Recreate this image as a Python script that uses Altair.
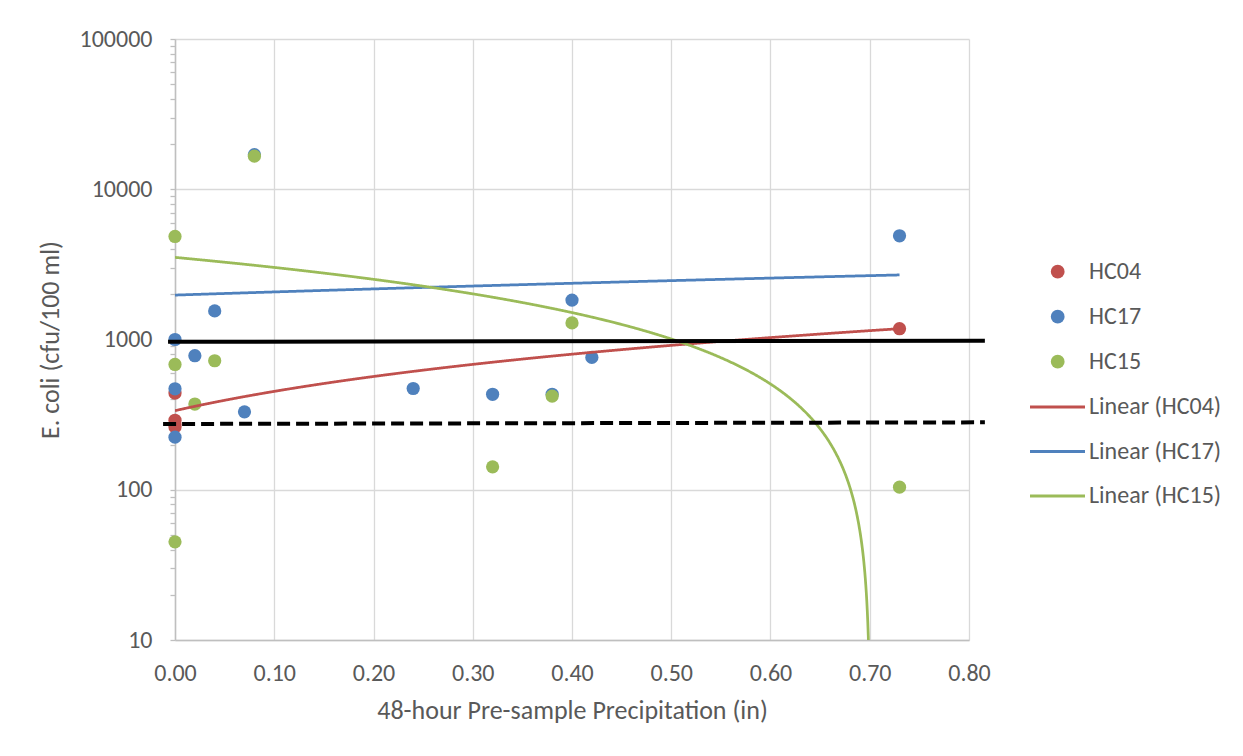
import altair as alt
import pandas as pd

FONT = "Carlito, Calibri, Lato, sans-serif"
TXT = "#595959"

# ---- scatter values ----
series_names = ["HC04", "HC17", "HC15"]
series_colors = ["#C0504D", "#4F81BD", "#9BBB59"]

hc04_x = [0.00, 0.00, 0.00, 0.00, 0.73]
hc04_y = [440, 290, 272, 262, 1180]

hc17_x = [0.00, 0.02, 0.04, 0.00, 0.00, 0.07, 0.08, 0.24, 0.32, 0.38, 0.40, 0.42, 0.73]
hc17_y = [1000, 780, 1550, 470, 224, 330, 17000, 472, 432, 432, 1830, 760, 4900]

hc15_x = [0.00, 0.08, 0.00, 0.04, 0.02, 0.00, 0.32, 0.38, 0.40, 0.73]
hc15_y = [4850, 16600, 682, 722, 372, 45, 142, 420, 1290, 104]

# ---- linear trendlines: two readings on each line and the x span ----
trend_names = ["Linear (HC04)", "Linear (HC17)", "Linear (HC15)"]
trend_xa = [0.00, 0.00, 0.00]
trend_ya = [336, 1975, 3520]
trend_xb = [0.73, 0.73, 0.50]
trend_yb = [1180, 2690, 1008]
trend_x_end = [0.73, 0.73, 0.73]

# ---- black reference lines (solid and dashed) ----
ref_solid_x = [-0.007, 0.816]
ref_solid_y = [966, 981]
ref_dash_x = [-0.012, 0.816]
ref_dash_y = [274, 281]

# ---- axis ticks ----
x_ticks = [0.0, 0.1, 0.2, 0.3, 0.4, 0.5, 0.6, 0.7, 0.8]
y_ticks = [d * k for d in [10, 100, 1000, 10000] for k in range(1, 10)] + [100000]

points_df = pd.DataFrame({
    "series": ["HC04"] * len(hc04_x) + ["HC17"] * len(hc17_x) + ["HC15"] * len(hc15_x),
    "x": hc04_x + hc17_x + hc15_x,
    "y": hc04_y + hc17_y + hc15_y,
})
trend_df = pd.DataFrame({
    "series": trend_names, "xa": trend_xa, "ya": trend_ya,
    "xb": trend_xb, "yb": trend_yb, "x_end": trend_x_end,
})
solid_df = pd.DataFrame({"x": ref_solid_x, "y": ref_solid_y})
dash_df = pd.DataFrame({"x": ref_dash_x, "y": ref_dash_y})

DECADE = "abs(log(datum.value)/LN10 - round(log(datum.value)/LN10)) < 0.0001"

LBL = 24
TTL = 26

X = alt.X(
    "x:Q",
    title="48-hour Pre-sample Precipitation (in)",
    scale=alt.Scale(domain=[0, 0.8], nice=False, zero=False),
    axis=alt.Axis(values=x_ticks, format=".2f", ticks=False, grid=True, labelFlush=False,
                  labelPadding=21, titlePadding=12),
)
Y = alt.Y(
    "y:Q",
    title="E. coli (cfu/100 ml)",
    scale=alt.Scale(type="log", domain=[10, 100000], nice=False),
    axis=alt.Axis(values=y_ticks, grid=True, tickSize=5, labelFlush=False,
                  labelExpr=f"({DECADE}) ? format(datum.value, 'd') : ''",
                  gridOpacity={"condition": {"test": DECADE, "value": 1}, "value": 0},
                  labelPadding=18, titlePadding=16),
)

pt_legend = alt.Legend(
    title=None, orient="none", legendX=870.7, legendY=220.7,
    symbolType="circle", symbolSize=190, symbolStrokeWidth=0, symbolOpacity=1,
    labelFontSize=LBL, labelColor=TXT, labelFont=FONT,
    rowPadding=21, labelOffset=19.3, padding=0,
)
ln_legend = alt.Legend(
    title=None, orient="none", legendX=853.5, legendY=356,
    symbolType="stroke", symbolSize=3025, symbolStrokeWidth=3, clipHeight=LBL,
    labelFontSize=LBL, labelColor=TXT, labelFont=FONT,
    rowPadding=20.5, labelOffset=2.5, padding=0,
)

points = alt.Chart(points_df).mark_circle(size=175, opacity=1).encode(
    x=X, y=Y,
    color=alt.Color("series:N", scale=alt.Scale(domain=series_names, range=series_colors),
                    legend=pt_legend),
)

trends = alt.Chart(trend_df).transform_calculate(
    t="sequence(0, datum.x_end + 0.0001, 0.0005)"
).transform_flatten(["t"]).transform_calculate(
    x="datum.t",
    y="datum.ya + (datum.yb - datum.ya) * (datum.t - datum.xa) / (datum.xb - datum.xa)",
).transform_filter("datum.y > 0").mark_line(strokeWidth=2.75, clip=True).encode(
    x=X, y=Y,
    stroke=alt.Stroke("series:N", scale=alt.Scale(domain=trend_names, range=series_colors),
                      legend=ln_legend),
)

solid = alt.Chart(solid_df).mark_line(color="black", strokeWidth=4, strokeCap="butt").encode(x=X, y=Y)
dashed = alt.Chart(dash_df).mark_line(color="black", strokeWidth=4, strokeDash=[13, 6],
                                      strokeCap="butt").encode(x=X, y=Y)

chart = alt.layer(points, trends, solid, dashed).properties(
    width=794, height=601,
    background="white",
    autosize=alt.AutoSizeParams(type="none"),
    padding={"left": 167, "top": 31, "right": 255, "bottom": 100},
).configure_axis(
    labelFont=FONT, labelFontSize=LBL, labelColor=TXT,
    titleFont=FONT, titleFontSize=TTL, titleColor=TXT, titleFontWeight="normal",
    domainColor="#BFBFBF", domainWidth=1.5,
    gridColor="#D9D9D9", gridWidth=1.3,
    tickColor="#BFBFBF", tickWidth=1.3,
).configure_view(stroke=None)

chart.save("out.html", embed_options={"renderer": "svg", "actions": False})
